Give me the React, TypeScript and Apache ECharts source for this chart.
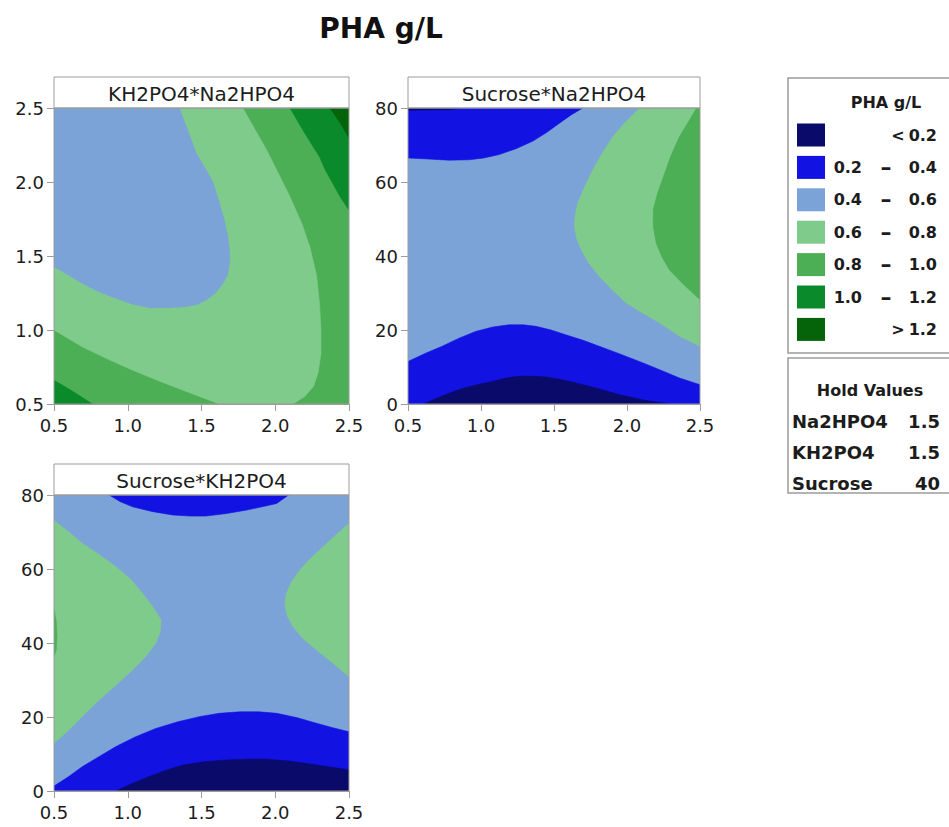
import React, { useEffect, useRef } from "react";
import * as echarts from "echarts";

// ---------- text ----------
const mainTitle = "PHA g/L";
const panelTitles = ["KH2PO4*Na2HPO4", "Sucrose*Na2HPO4", "Sucrose*KH2PO4"];
const legendTitle = "PHA g/L";
const legendLow = ["", "0.2", "0.4", "0.6", "0.8", "1.0", ""];
const legendSep = ["<", "–", "–", "–", "–", "–", ">"];
const legendHigh = ["0.2", "0.4", "0.6", "0.8", "1.0", "1.2", "1.2"];
const levelColors = ["#0a0a6a", "#1212e2", "#7ba3d8", "#7fcb8b", "#4cae55", "#0a8a2a", "#05640a"];
const holdTitle = "Hold Values";
const holdNames = ["Na2HPO4", "KH2PO4", "Sucrose"];
const holdValues = ["1.5", "1.5", "40"];

// ---------- axes ----------
const saltRange = [0.5, 2.5];
const saltStep = 0.5;
const sucroseRange = [0, 80];
const sucroseStep = 20;

// ---------- contour regions (level index, boundary points) ----------
// Panel 1: x = Na2HPO4, y = KH2PO4 ; base level 0.8–1.0
const p1Base = 4;
const p1Regions: [number, number[][]][] = [
  [3, [[0.5, 2.5], [1.78, 2.5], [1.86, 2.36], [1.94, 2.22], [2.02, 2.06], [2.1, 1.9], [2.18, 1.72], [2.235, 1.56], [2.28, 1.37], [2.3, 1.18], [2.31, 1.0], [2.31, 0.84], [2.29, 0.71], [2.26, 0.62], [2.2, 0.55], [2.12, 0.5], [1.62, 0.5], [1.5, 0.545], [1.37, 0.595], [1.2, 0.66], [1.03, 0.73], [0.86, 0.805], [0.69, 0.887], [0.5, 1.0]]],
  [2, [[0.5, 2.5], [1.35, 2.5], [1.41, 2.34], [1.464, 2.194], [1.527, 2.09], [1.577, 2.0], [1.622, 1.856], [1.655, 1.74], [1.679, 1.631], [1.69, 1.53], [1.69, 1.45], [1.675, 1.37], [1.645, 1.315], [1.595, 1.25], [1.532, 1.203], [1.47, 1.172], [1.396, 1.158], [1.27, 1.15], [1.146, 1.151], [1.03, 1.175], [0.92, 1.214], [0.8, 1.26], [0.693, 1.315], [0.6, 1.37], [0.5, 1.428]]],
  [5, [[2.1, 2.5], [2.5, 2.5], [2.5, 1.81], [2.44, 1.9], [2.39, 1.99], [2.34, 2.08], [2.3, 2.17], [2.2, 2.33]]],
  [6, [[2.37, 2.5], [2.5, 2.5], [2.5, 2.297], [2.44, 2.4]]],
  [5, [[0.5, 0.5], [0.5, 0.66], [0.62, 0.59], [0.76, 0.5]]],
];

// Panel 2: x = Na2HPO4, y = Sucrose ; base level 0.4–0.6
const p2Base = 2;
const p2Regions: [number, number[][]][] = [
  [1, [[0.5, 80], [1.697, 80], [1.62, 78.2], [1.537, 75.9], [1.45, 73.4], [1.353, 71], [1.24, 69], [1.124, 67.4], [1.02, 66.5], [0.917, 66], [0.78, 65.9], [0.64, 66.2], [0.5, 66.5]]],
  [0, [[0.5, 80], [0.86, 80], [0.8, 79.6], [0.5, 79.4]]],
  [1, [[0.5, 0], [0.5, 11.5], [0.62, 13.7], [0.734, 15.6], [0.85, 17.8], [0.963, 19.6], [1.08, 20.8], [1.19, 21.4], [1.29, 21.4], [1.376, 21.0], [1.48, 20.0], [1.58, 18.7], [1.7, 17.2], [1.81, 15.6], [1.96, 13.4], [2.11, 11.1], [2.24, 9.0], [2.36, 7.0], [2.5, 5.2], [2.5, 0]]],
  [0, [[0.608, 0], [0.73, 2.1], [0.85, 3.9], [0.97, 5.2], [1.08, 6.1], [1.17, 7.0], [1.26, 7.5], [1.35, 7.5], [1.445, 7.3], [1.55, 6.6], [1.65, 5.7], [1.8, 4.2], [1.95, 2.5], [2.12, 1.0], [2.29, 0]]],
  [3, [[2.087, 80], [1.99, 76.2], [1.904, 72.3], [1.83, 67.8], [1.766, 63.3], [1.71, 58.7], [1.663, 54.3], [1.645, 51], [1.64, 48], [1.655, 44.8], [1.686, 41.7], [1.74, 38], [1.81, 34.5], [1.9, 30.8], [1.995, 27.3], [2.11, 24.5], [2.225, 21.9], [2.36, 18.3], [2.5, 15.6], [2.5, 80]]],
  [4, [[2.477, 80], [2.42, 76.2], [2.36, 72.3], [2.3, 67], [2.25, 61.5], [2.21, 57], [2.18, 52.5], [2.18, 48], [2.2, 43.5], [2.24, 39.7], [2.29, 36.3], [2.39, 32.2], [2.5, 28.2], [2.5, 80]]],
];

// Panel 3: x = KH2PO4, y = Sucrose ; base level 0.4–0.6
const p3Base = 2;
const p3Regions: [number, number[][]][] = [
  [1, [[0.874, 80], [0.95, 78.2], [1.033, 76.8], [1.17, 75.5], [1.305, 74.6], [1.42, 74.3], [1.53, 74.3], [1.67, 75], [1.8, 75.9], [1.91, 76.8], [2.01, 77.7], [2.09, 80]]],
  [1, [[0.5, 0], [0.5, 1.35], [0.6, 3.9], [0.693, 6.6], [0.81, 9.4], [0.92, 12], [1.05, 14.6], [1.19, 16.9], [1.34, 18.7], [1.486, 20.1], [1.62, 21.0], [1.76, 21.4], [1.89, 21.4], [2.01, 21], [2.15, 19.8], [2.28, 18.3], [2.39, 17.1], [2.5, 16], [2.5, 0]]],
  [0, [[0.92, 0], [1.03, 2.0], [1.146, 3.9], [1.26, 5.6], [1.373, 7.0], [1.52, 7.9], [1.668, 8.4], [1.8, 8.6], [1.94, 8.6], [2.09, 8.1], [2.235, 7.3], [2.37, 6.5], [2.5, 5.7], [2.5, 0]]],
  [3, [[0.5, 73.2], [0.6, 70.0], [0.693, 66.9], [0.81, 63.8], [0.92, 60.6], [1.02, 57.2], [1.1, 53.4], [1.17, 49.8], [1.226, 46.2], [1.22, 43], [1.19, 39.9], [1.12, 36.2], [1.033, 32.7], [0.92, 28.6], [0.806, 24.6], [0.71, 20.9], [0.625, 17.4], [0.56, 15.0], [0.5, 12.9]]],
  [4, [[0.5, 49], [0.515, 46], [0.52, 42], [0.515, 38], [0.5, 36.5]]],
  [3, [[2.5, 72.3], [2.4, 68.8], [2.3, 65.1], [2.23, 62.5], [2.167, 59.7], [2.11, 56.5], [2.076, 53.4], [2.065, 50.7], [2.08, 47.5], [2.12, 44.4], [2.19, 41.1], [2.28, 38.1], [2.39, 34.6], [2.5, 30.9]]],
];

const FONT = "'DejaVu Sans', 'Liberation Sans', sans-serif";
const GRAY = "#9c9c9c";
const TEXT = "#1c1c1c";

const grids = [
  { left: 54, top: 108, width: 295, height: 296 },
  { left: 408, top: 108, width: 292, height: 296 },
  { left: 54, top: 495, width: 295, height: 296 },
];
const HEADER_H = 31;

function withBase(base: number, xr: number[], yr: number[], regions: [number, number[][]][]) {
  const full: [number, number[][]] = [base, [[xr[0], yr[0]], [xr[1], yr[0]], [xr[1], yr[1]], [xr[0], yr[1]]]];
  return [full, ...regions];
}

export default function App() {
  const ref = useRef<HTMLDivElement>(null);

  useEffect(() => {
    if (!ref.current) return;
    const chart = echarts.init(ref.current, undefined, { renderer: "svg" });

    const panels = [
      { regions: withBase(p1Base, saltRange, saltRange, p1Regions), yr: saltRange, ys: saltStep },
      { regions: withBase(p2Base, saltRange, sucroseRange, p2Regions), yr: sucroseRange, ys: sucroseStep },
      { regions: withBase(p3Base, saltRange, sucroseRange, p3Regions), yr: sucroseRange, ys: sucroseStep },
    ];

    const labelStyle = { fontFamily: FONT, fontSize: 18, color: TEXT };

    const xAxis = panels.map((_, i) => ({
      type: "value",
      gridIndex: i,
      min: saltRange[0],
      max: saltRange[1],
      interval: saltStep,
      axisLine: { show: true, onZero: false, lineStyle: { color: GRAY, width: 1 } },
      axisTick: { show: true, length: 7, lineStyle: { color: GRAY } },
      splitLine: { show: false },
      axisLabel: { ...labelStyle, margin: 12, formatter: (v: number) => v.toFixed(1) },
    }));
    const yAxis = panels.map((p, i) => ({
      type: "value",
      gridIndex: i,
      min: p.yr[0],
      max: p.yr[1],
      interval: p.ys,
      axisLine: { show: true, onZero: false, lineStyle: { color: GRAY, width: 1 } },
      axisTick: { show: true, length: 7, lineStyle: { color: GRAY } },
      splitLine: { show: false },
      axisLabel: {
        ...labelStyle,
        margin: 10,
        formatter: (v: number) => (p.ys < 1 ? v.toFixed(1) : String(v)),
      },
    }));

    const series = panels.map((p, i) => ({
      type: "custom",
      xAxisIndex: i,
      yAxisIndex: i,
      clip: true,
      silent: true,
      data: p.regions.map((r) => r[1][0]),
      renderItem: (params: any, api: any) => {
        const r = p.regions[params.dataIndex];
        const pts = r[1].map((pt) => api.coord(pt));
        const c = levelColors[r[0]];
        return {
          type: "polygon",
          shape: { points: pts },
          style: { fill: c, stroke: c, lineWidth: 0.6 },
        };
      },
    }));

    const graphic: any[] = [];
    graphic.push({
      type: "text",
      x: 381,
      y: 28,
      style: { text: mainTitle, font: `bold 28px ${FONT}`, fill: "#111", align: "center", verticalAlign: "middle" },
    });
    grids.forEach((g, i) => {
      graphic.push({
        type: "rect",
        shape: { x: g.left, y: g.top - HEADER_H, width: g.width, height: HEADER_H },
        style: { fill: "#fff", stroke: GRAY, lineWidth: 1 },
        z: 10,
      });
      graphic.push({
        type: "text",
        x: g.left + g.width / 2,
        y: g.top - HEADER_H / 2 + 1,
        style: { text: panelTitles[i], font: `20px ${FONT}`, fill: TEXT, align: "center", verticalAlign: "middle" },
        z: 11,
      });
      graphic.push({
        type: "rect",
        shape: { x: g.left, y: g.top, width: g.width, height: g.height },
        style: { fill: "none", stroke: GRAY, lineWidth: 1 },
        z: 10,
      });
    });
    // legend box
    graphic.push({
      type: "rect",
      shape: { x: 788, y: 78, width: 180, height: 275 },
      style: { fill: "#fff", stroke: GRAY, lineWidth: 1.5 },
      z: 5,
    });
    graphic.push({
      type: "text",
      x: 886,
      y: 102,
      style: { text: legendTitle, font: `bold 16px ${FONT}`, fill: TEXT, align: "center", verticalAlign: "middle" },
      z: 6,
    });
    levelColors.forEach((c, i) => {
      const cy = 135 + i * 32.4;
      graphic.push({
        type: "rect",
        shape: { x: 797, y: cy - 11.5, width: 28, height: 23 },
        style: { fill: c, stroke: "none" },
        z: 6,
      });
      if (legendLow[i]) {
        graphic.push({
          type: "text",
          x: 862,
          y: cy,
          style: { text: legendLow[i], font: `bold 16px ${FONT}`, fill: TEXT, align: "right", verticalAlign: "middle" },
          z: 6,
        });
      }
      const isDash = legendSep[i] === "–";
      graphic.push({
        type: "text",
        x: isDash ? 886 : 898,
        y: cy,
        style: {
          text: legendSep[i],
          font: `bold ${isDash ? 22 : 16}px ${FONT}`,
          fill: TEXT,
          align: "center",
          verticalAlign: "middle",
        },
        z: 6,
      });
      graphic.push({
        type: "text",
        x: 937,
        y: cy,
        style: { text: legendHigh[i], font: `bold 16px ${FONT}`, fill: TEXT, align: "right", verticalAlign: "middle" },
        z: 6,
      });
    });
    // hold values box
    graphic.push({
      type: "rect",
      shape: { x: 788, y: 358, width: 180, height: 135 },
      style: { fill: "#fff", stroke: GRAY, lineWidth: 1.5 },
      z: 5,
    });
    graphic.push({
      type: "text",
      x: 870,
      y: 390,
      style: { text: holdTitle, font: `bold 16px ${FONT}`, fill: TEXT, align: "center", verticalAlign: "middle" },
      z: 6,
    });
    holdNames.forEach((n, i) => {
      const cy = 421 + i * 31;
      graphic.push({
        type: "text",
        x: 792,
        y: cy,
        style: { text: n, font: `bold 18px ${FONT}`, fill: TEXT, align: "left", verticalAlign: "middle" },
        z: 6,
      });
      graphic.push({
        type: "text",
        x: 940,
        y: cy,
        style: { text: holdValues[i], font: `bold 18px ${FONT}`, fill: TEXT, align: "right", verticalAlign: "middle" },
        z: 6,
      });
    });

    chart.setOption({
      animation: false,
      backgroundColor: "#ffffff",
      grid: grids.map((g) => ({ ...g, containLabel: false })),
      xAxis,
      yAxis,
      series,
      graphic,
    });

    return () => chart.dispose();
  }, []);

  return (
    <div
      ref={ref}
      style={{ position: "fixed", left: 0, top: 0, width: 949, height: 827, background: "#fff" }}
    />
  );
}
